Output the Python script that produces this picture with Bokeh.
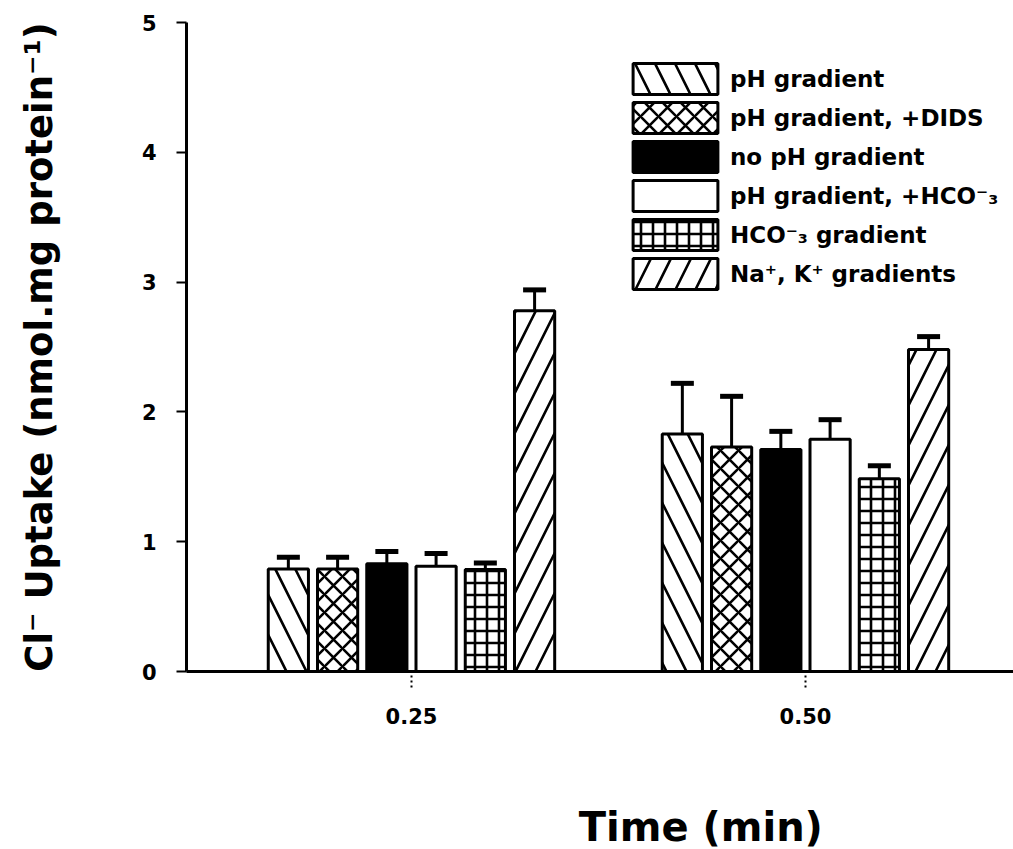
from bokeh.plotting import figure
from bokeh.layouts import column
from bokeh.models import (Range1d, FixedTicker, Whisker, TeeHead, ColumnDataSource,
                          Legend, LegendItem)
from bokeh.core.properties import value
from bokeh.embed import file_html
from bokeh.resources import INLINE

# ---- data ----
time_labels = ["0.25", "0.50"]
x_title = "Time (min)"
y_title = "Cl\u207b Uptake (nmol.mg protein\u207b\u00b9)"
series_names = ["pH gradient", "pH gradient, +DIDS", "no pH gradient",
                "pH gradient, +HCO\u207b\u2083", "HCO\u207b\u2083 gradient",
                "Na\u207a, K\u207a gradients"]
ph_gradient = [0.79, 1.83]
ph_gradient_err = [0.09, 0.39]
ph_dids = [0.79, 1.73]
ph_dids_err = [0.09, 0.39]
no_ph = [0.83, 1.71]
no_ph_err = [0.095, 0.14]
ph_hco3 = [0.81, 1.79]
ph_hco3_err = [0.10, 0.15]
hco3_grad = [0.785, 1.485]
hco3_grad_err = [0.05, 0.10]
nak_grad = [2.78, 2.48]
nak_grad_err = [0.16, 0.10]

values = [ph_gradient, ph_dids, no_ph, ph_hco3, hco3_grad, nak_grad]
errors = [ph_gradient_err, ph_dids_err, no_ph_err, ph_hco3_err, hco3_grad_err, nak_grad_err]

# ---- styles ----
FONT = "DejaVu Sans"
fills = ["white", "white", "black", "white", "white", "white"]
hatches = ["\\", "x", None, None, "+", "/"]
hatch_scales = [40, 18, 12, 12, 12, 40]

p = figure(width=1013, height=741, output_backend="svg", toolbar_location=None,
           x_range=Range1d(-0.571, 1.528), y_range=Range1d(0, 5),
           min_border_left=186, min_border_top=22, min_border_bottom=70,
           min_border_right=0)
p.outline_line_color = None
p.xgrid.visible = False
p.ygrid.visible = False

step = 0.125
bw = 0.102
items = []
for i, (vals, errs) in enumerate(zip(values, errors)):
    xs = [g + (i - 2.5) * step for g in range(len(time_labels))]
    kw = dict(fill_color=fills[i], line_color="black", line_width=3)
    if hatches[i]:
        kw.update(hatch_pattern=hatches[i], hatch_color="black",
                  hatch_weight=2.6, hatch_scale=hatch_scales[i])
    r = p.vbar(x=xs, top=vals, width=bw, **kw)
    items.append(LegendItem(label=series_names[i], renderers=[r]))
    src = ColumnDataSource(dict(x=xs, lower=vals,
                                upper=[v + e for v, e in zip(vals, errs)]))
    w = Whisker(source=src, base="x", lower="lower", upper="upper",
                dimension="height", line_width=3, line_color="black",
                upper_head=TeeHead(size=23, line_width=5, line_color="black"),
                lower_head=None)
    p.add_layout(w)

legend = Legend(items=items, location=(436, 378), glyph_width=106, glyph_height=39,
                label_height=39, spacing=0, padding=0, margin=0, label_standoff=2,
                border_line_color=None, background_fill_alpha=0,
                label_text_font=FONT, label_text_font_style="bold",
                label_text_font_size="23px", label_text_color="black")
p.add_layout(legend)

# axes
p.yaxis.ticker = FixedTicker(ticks=[0, 1, 2, 3, 4, 5])
p.yaxis.minor_tick_line_color = None
p.yaxis.major_tick_in = 0
p.yaxis.major_tick_out = 10
p.yaxis.major_tick_line_width = 2
p.yaxis.axis_line_width = 3
p.yaxis.major_label_standoff = 20
p.yaxis.major_label_text_font = FONT
p.yaxis.major_label_text_font_style = "bold"
p.yaxis.major_label_text_font_size = "21px"
p.yaxis.major_label_text_color = "black"
p.yaxis.axis_label = y_title
p.yaxis.axis_label_text_font = FONT
p.yaxis.axis_label_text_font_style = "bold"
p.yaxis.axis_label_text_font_size = "37px"
p.yaxis.axis_label_text_color = "black"
p.yaxis.axis_label_standoff = 78

p.xaxis.ticker = FixedTicker(ticks=list(range(len(time_labels))))
p.xaxis.major_label_overrides = {i: t for i, t in enumerate(time_labels)}
p.xaxis.minor_tick_line_color = None
p.xaxis.major_tick_in = 0
p.xaxis.major_tick_out = 16
p.xaxis.major_tick_line_width = 2
p.xaxis.major_tick_line_dash = "2 3"
p.xaxis.axis_line_width = 3
p.xaxis.major_label_standoff = 20
p.xaxis.major_label_text_font = FONT
p.xaxis.major_label_text_font_style = "bold"
p.xaxis.major_label_text_font_size = "21px"
p.xaxis.major_label_text_color = "black"

# strip below the chart carrying the x-axis title
p2 = figure(width=1013, height=108, output_backend="svg", toolbar_location=None,
            x_range=Range1d(0, 1013), y_range=Range1d(0, 108),
            x_axis_type=None, y_axis_type=None, min_border=0)
p2.outline_line_color = None
p2.xgrid.visible = False
p2.ygrid.visible = False
p2.text(x=[630], y=[23], text=[x_title], text_align="center", text_baseline="middle",
        text_font=value(FONT), text_font_style="bold", text_font_size="40px",
        text_color="black")

layout = column(p, p2, spacing=0)
open("out.html", "w").write(file_html(layout, INLINE))
